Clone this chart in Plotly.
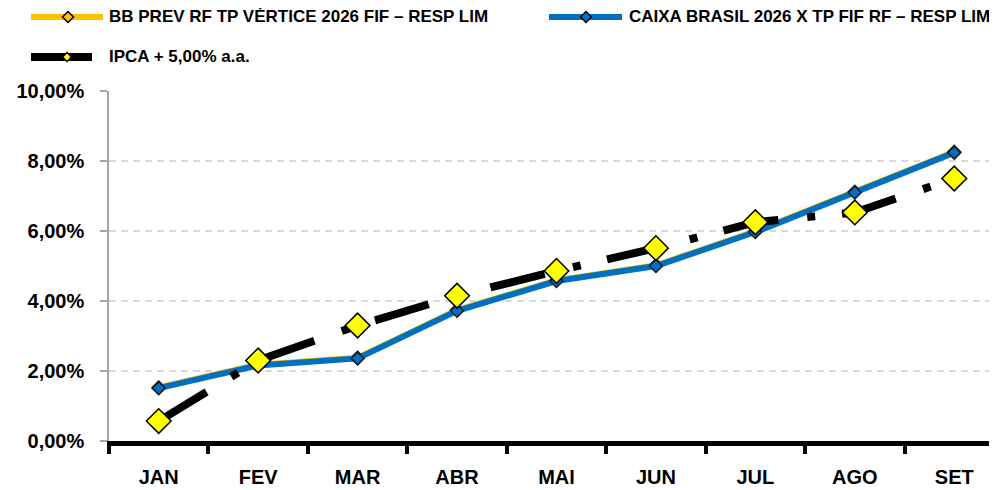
import plotly.graph_objects as go

months = ["JAN", "FEV", "MAR", "ABR", "MAI", "JUN", "JUL", "AGO", "SET"]
bb_prev = [1.53, 2.18, 2.38, 3.74, 4.59, 5.02, 5.99, 7.12, 8.26]
caixa = [1.51, 2.16, 2.36, 3.72, 4.57, 5.00, 5.97, 7.10, 8.24]
ipca = [0.57, 2.30, 3.30, 4.15, 4.86, 5.51, 6.25, 6.53, 7.50]

names = ["BB PREV RF TP VÉRTICE 2026 FIF – RESP LIM",
         "CAIXA BRASIL 2026 X TP FIF RF – RESP LIM",
         "IPCA + 5,00% a.a."]

# page body has an 8px margin: work in window pixels, then shift
OFF = 8
WIN_W, WIN_H = 997, 490
PL, PR, PT, PB = 109, 997, 91, 441   # plot area in window pixels
W, H = WIN_W - OFF, WIN_H - OFF
L, T = PL - OFF, PT - OFF
R = W - (PR - OFF)
B = H - (PB - OFF)
FONT = "Liberation Sans"

def pct(v):
    return [x / 100 for x in v]

fig = go.Figure()
fig.add_trace(go.Scatter(
    x=months, y=pct(bb_prev), mode="lines+markers", name=names[0],
    line=dict(color="#FFC000", width=6),
    marker=dict(symbol="diamond", size=10, color="#FFC000",
                line=dict(color="#1a1a1a", width=1.5)),
    showlegend=False))
fig.add_trace(go.Scatter(
    x=months, y=pct(caixa), mode="lines+markers", name=names[1],
    line=dict(color="#0070C0", width=6),
    marker=dict(symbol="diamond", size=10, color="#0070C0",
                line=dict(color="#1a1a1a", width=1.5)),
    showlegend=False))
fig.add_trace(go.Scatter(
    x=months, y=pct(ipca), mode="lines+markers", name=names[2],
    line=dict(color="#000000", width=8, dash="56px,29px,8px,27px"),
    marker=dict(symbol="diamond", size=19, color="#FFFF00",
                line=dict(color="#000000", width=1.5)),
    showlegend=False))

# manual legend (window pixel -> paper conversion)
def px(x):
    return (x - PL) / (PR - PL)
def py(y):
    return (PB - y) / (PB - PT)

shapes = []
annotations = []
def legend_item(x0, x1, cx, y, color, lw, mcolor, msize, text, tx):
    shapes.append(dict(type="line", xref="paper", yref="paper",
                       x0=px(x0), x1=px(x1), y0=py(y), y1=py(y),
                       line=dict(color=color, width=lw)))
    r = msize / 2
    path = "M{},{} L{},{} L{},{} L{},{} Z".format(
        px(cx - r), py(y), px(cx), py(y - r), px(cx + r), py(y), px(cx), py(y + r))
    shapes.append(dict(type="path", xref="paper", yref="paper", path=path,
                       fillcolor=mcolor, line=dict(color="#000000", width=1.5)))
    annotations.append(dict(xref="paper", yref="paper", x=px(tx), y=py(y),
                            xanchor="left", yanchor="middle", showarrow=False,
                            text="<b>" + text + "</b>",
                            font=dict(family=FONT, size=17, color="#000000")))

legend_item(31, 103, 68, 17, "#FFC000", 6, "#FFC000", 11, names[0], 107)
legend_item(549, 622, 586, 17, "#0070C0", 6, "#0070C0", 11, names[1], 627)
legend_item(31, 92, 67, 57, "#000000", 8, "#FFFF00", 9, names[2], 107)

fig.update_layout(
    width=W, height=H,
    margin=dict(l=L, r=R, t=T, b=B, autoexpand=False),
    paper_bgcolor="white", plot_bgcolor="white",
    separators=",.",
    shapes=shapes, annotations=annotations,
    font=dict(family=FONT, color="#000000"),
    showlegend=False,
)
fig.update_xaxes(
    type="category", range=[-0.5, 8.43],
    showline=True, linecolor="#000000", linewidth=5,
    ticks="outside", tickson="boundaries", ticklen=8, tickwidth=4,
    tickcolor="#000000", showgrid=False,
    tickfont=dict(family=FONT, size=20, color="#000000", weight="bold"),
    ticklabelstandoff=14,
)
fig.update_yaxes(
    range=[0, 0.10], tickvals=[0, 0.02, 0.04, 0.06, 0.08, 0.10],
    tickformat=".2%",
    showline=True, linecolor="#a6a6a6", linewidth=1.5,
    ticks="outside", ticklen=7, tickwidth=1.5, tickcolor="#a6a6a6",
    showgrid=True, gridcolor="#d9d9d9", gridwidth=1.5, griddash="7px,5px",
    zeroline=False,
    tickfont=dict(family=FONT, size=20, color="#000000", weight="bold"),
    ticklabelstandoff=12,
)

fig.write_html("out.html")
